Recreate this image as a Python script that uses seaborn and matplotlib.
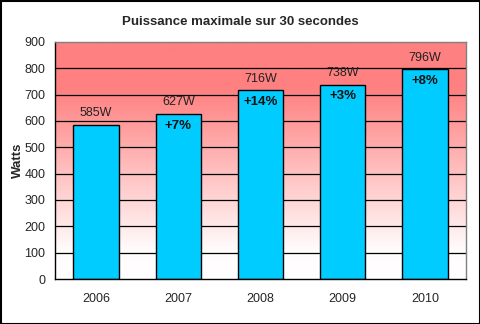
import numpy as np
import pandas as pd
import matplotlib
matplotlib.use("Agg")
import matplotlib.pyplot as plt
import seaborn as sns
from matplotlib.colors import LinearSegmentedColormap

years = ["2006", "2007", "2008", "2009", "2010"]
watts = [585, 627, 716, 738, 796]
value_labels = ["585W", "627W", "716W", "738W", "796W"]
pct_labels = ["", "+7%", "+14%", "+3%", "+8%"]
yticks = [0, 100, 200, 300, 400, 500, 600, 700, 800, 900]

sns.set_style("white")
plt.rcParams["font.family"] = ["Liberation Sans", "DejaVu Sans"]

fig = plt.figure(figsize=(4.81, 3.24), dpi=100)
ax = fig.add_axes([55/481, 45/324, (466-55)/481, (279-42)/324])

df = pd.DataFrame({"year": years, "watts": watts})

# gradient background
cmap = LinearSegmentedColormap.from_list(
    "g", [(0, "#FFFFFF"), (0.12, "#FFFCFC"), (0.8, "#FF8080"), (1, "#FF8080")])
grad = np.linspace(0, 1, 256).reshape(-1, 1)
ax.imshow(grad, cmap=cmap, origin="lower", extent=[-0.5, 4.5, 0, 900],
          aspect="auto", zorder=0)

for t in yticks[1:-1]:
    ax.axhline(t, color="black", lw=0.9, zorder=1)

sns.barplot(data=df, x="year", y="watts", color="#00CCFF", edgecolor="black",
            linewidth=1, width=0.55, saturation=1, ax=ax, zorder=2)

for i, (v, lab, p) in enumerate(zip(watts, value_labels, pct_labels)):
    ax.text(i, v + 22, lab, ha="center", va="bottom", fontsize=9, color="#222222", zorder=3)
    if p:
        ax.text(i, v - 22, p, ha="center", va="top", fontsize=9.5, fontweight="bold",
                color="#111111", zorder=3)

ax.set_xlim(-0.5, 4.5)
ax.set_ylim(0, 900)
ax.set_yticks(yticks)
ax.set_yticklabels([str(t) for t in yticks], fontsize=9)
ax.set_xticks(range(len(years)))
ax.set_xticklabels(years, fontsize=9)
ax.set_xticks(np.arange(-0.5, 5, 1), minor=True)
ax.tick_params(axis="x", which="major", length=0, pad=10)
ax.tick_params(axis="x", which="minor", length=4, width=1, color="black", direction="out")
ax.tick_params(axis="y", length=4, width=1, color="black", direction="out", pad=3)
ax.set_xlabel("")
ax.set_ylabel("Watts", fontsize=9.5, fontweight="bold", labelpad=0)

for s in ["left", "bottom"]:
    ax.spines[s].set_color("black")
    ax.spines[s].set_linewidth(1)
for s in ["top", "right"]:
    ax.spines[s].set_color("#808080")
    ax.spines[s].set_linewidth(1)

fig.text(0.5, 1 - 22/324, "Puissance maximale sur 30 secondes", ha="center", va="center",
         fontsize=9.5, fontweight="bold")

fig.patches.append(plt.Rectangle((0.5/481, 0.5/324), 1 - 1.5/481, 1 - 1.5/324,
                                 transform=fig.transFigure, fill=False,
                                 edgecolor="black", lw=1.5))

fig.savefig("out.png", dpi=100)
